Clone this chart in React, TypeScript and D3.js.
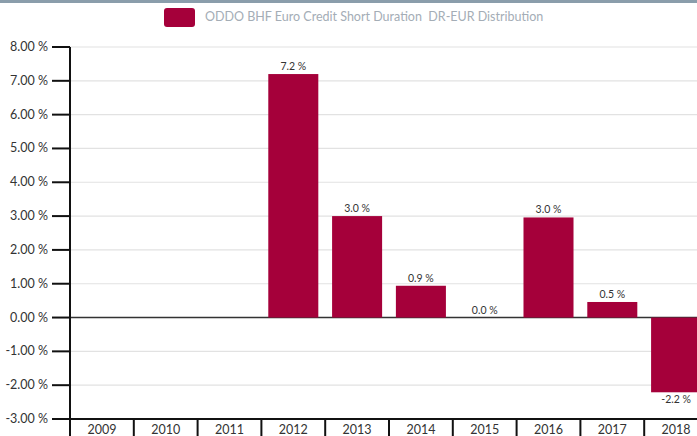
import React from "react";
import * as d3 from "d3";

const categories = ["2009", "2010", "2011", "2012", "2013", "2014", "2015", "2016", "2017", "2018"];
const values: (number | null)[] = [null, null, null, 7.2, 3.0, 0.94, 0.0, 2.96, 0.46, -2.21];
const yTicks = [-3, -2, -1, 0, 1, 2, 3, 4, 5, 6, 7, 8];
const seriesName = "ODDO BHF Euro Credit Short Duration  DR-EUR Distribution";

const W = 697;
const H = 436;
const BAR = "#a5003a";
const FONT = "Lato, 'Open Sans', sans-serif";

export default function App() {
  const y = d3.scaleLinear().domain([-3, 8]).range([419, 47]);
  const x = d3.scaleBand<string>().domain(categories).range([70, 708]).paddingInner(0.216).paddingOuter(0.108);
  const step = x.step();
  const half = (step * x.paddingInner()) / 2;

  return (
    <svg width={W} height={H} style={{ position: "absolute", left: 0, top: 0, background: "#fff" }} fontFamily={FONT}>
      <rect x={0} y={0} width={W} height={3} fill="#8a9dab" />
      {/* legend */}
      <rect x={164} y={8} width={31} height={19} rx={3} fill={BAR} />
      <text x={205} y={21} fontSize={12.5} fill="#a4adb6" style={{ whiteSpace: "pre" }}>{seriesName}</text>
      {/* grid */}
      {yTicks.map((t) => (
        <line key={"g" + t} x1={70} x2={W} y1={y(t)} y2={y(t)} stroke={t === 0 ? "#333" : "#e2e2e2"} strokeWidth={t === 0 ? 1.5 : 1.2} />
      ))}
      {/* bars */}
      {categories.map((c, i) => {
        const v = values[i];
        if (v === null) return null;
        const top = y(Math.max(0, v));
        const bot = y(Math.min(0, v));
        const cx = (x(c) as number) + x.bandwidth() / 2;
        return (
          <g key={c}>
            {bot - top > 0.5 && <rect x={x(c)} y={top} width={x.bandwidth()} height={bot - top} fill={BAR} />}
            <text x={cx} y={v >= 0 ? top - 4 : bot + 11} textAnchor="middle" fontSize={10.5} fill="#333">
              {v.toFixed(1) + " %"}
            </text>
          </g>
        );
      })}
      {/* y axis */}
      <line x1={70} x2={70} y1={y(8)} y2={H} stroke="#111" strokeWidth={2} />
      {yTicks.map((t) => (
        <g key={"t" + t}>
          <line x1={52} x2={70} y1={y(t)} y2={y(t)} stroke="#111" strokeWidth={2} />
          <text x={48} y={y(t) + 4} textAnchor="end" fontSize={12.5} fill="#333">
            {t.toFixed(2) + " %"}
          </text>
        </g>
      ))}
      {/* x axis */}
      <line x1={70} x2={W} y1={419} y2={419} stroke="#111" strokeWidth={2} />
      {categories.map((c) => {
        const bx = (x(c) as number) - half;
        return (
          <g key={"x" + c}>
            <line x1={bx} x2={bx} y1={419} y2={H} stroke="#111" strokeWidth={2} />
            <text x={bx + step / 2} y={434} textAnchor="middle" fontSize={12.5} fill="#333">{c}</text>
          </g>
        );
      })}
    </svg>
  );
}
